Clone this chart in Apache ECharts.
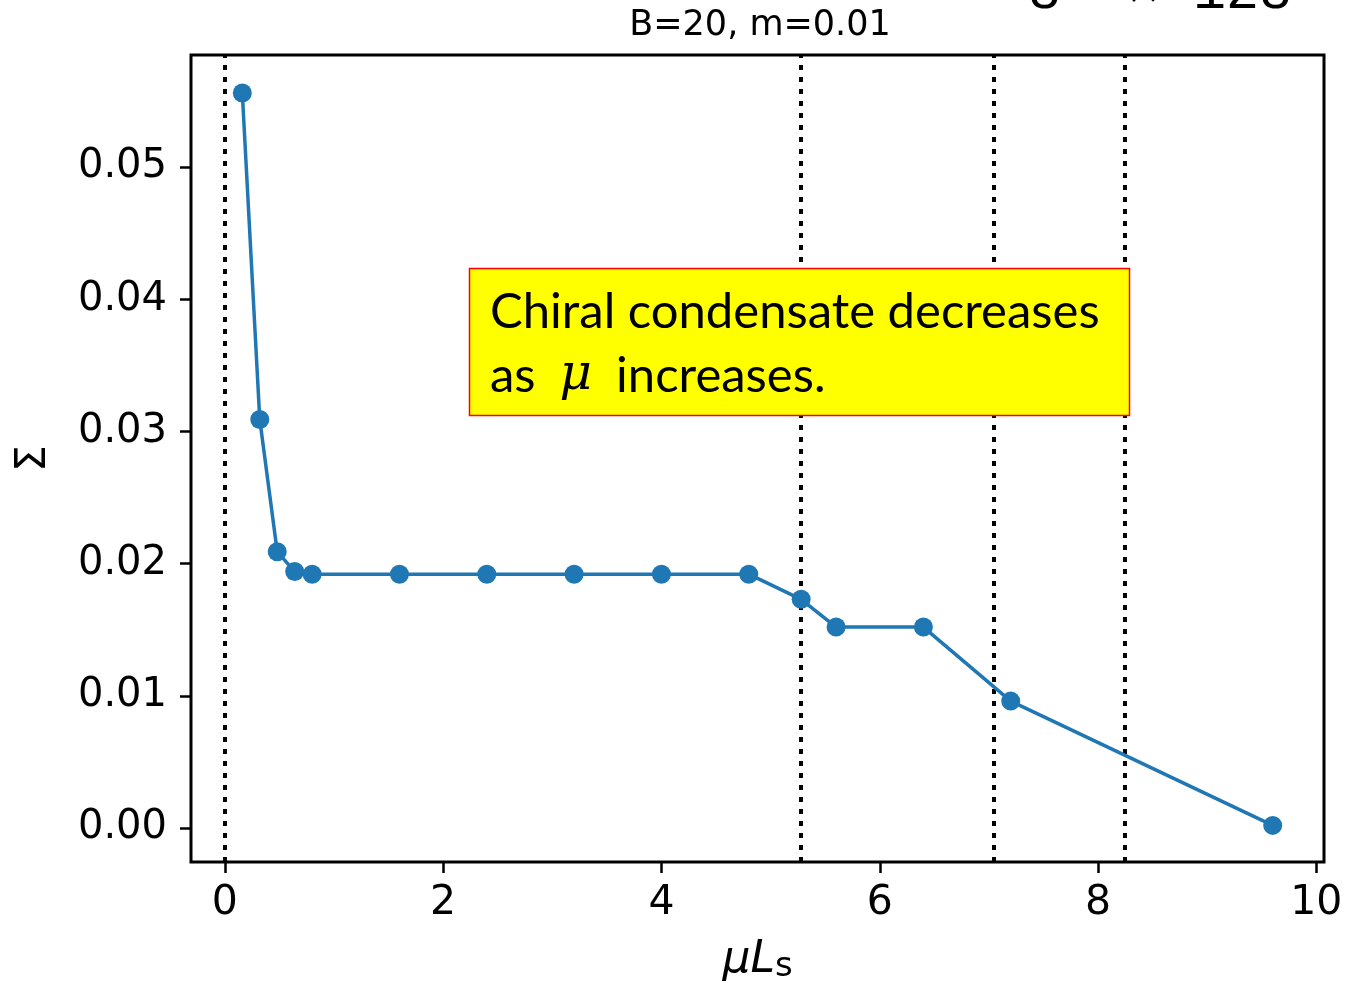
<!DOCTYPE html>
<html><head><meta charset="utf-8">
<script src="https://cdn.jsdelivr.net/npm/echarts@6/dist/echarts.min.js"></script>
<style>html,body{margin:0;padding:0;background:#fff}#c{width:1346px;height:983px}</style>
</head><body><div id="c"></div>
<script>
const muL = [0.16, 0.32, 0.48, 0.64, 0.8, 1.6, 2.4, 3.2, 4.0, 4.8, 5.28, 5.6, 6.4, 7.2, 9.6];
const sigma = [0.0556, 0.0309, 0.0209, 0.0194, 0.0192, 0.0192, 0.0192, 0.0192, 0.0192, 0.0192, 0.0173, 0.0152, 0.0152, 0.0096, 0.0002];
const vlines = [0.0, 5.28, 7.04, 8.24];
const xTicks = [0, 2, 4, 6, 8, 10];
const yTicks = [0, 0.01, 0.02, 0.03, 0.04, 0.05];
const titleText = 'B=20, m=0.01';
const cornerText = '8³ × 128';
const noteLine1 = 'Chiral condensate decreases';
const noteLine2a = 'as';
const noteMu = 'μ';
const noteLine2b = 'increases.';

const chart = echarts.init(document.getElementById('c'), null, {renderer: 'canvas'});
const F = '"DejaVu Sans"';
chart.setOption({
  animation: false,
  backgroundColor: '#fff',
  title: {text: titleText, left: 755, top: 3, textAlign: 'center',
    textStyle: {fontFamily: F, fontSize: 35, fontWeight: 'normal', color: '#000'}},
  grid: {left: 191, right: 22, top: 55, bottom: 121, show: true, borderColor: '#000', borderWidth: 3,
    backgroundColor: 'transparent', containLabel: false, outerBoundsMode: 'none'},
  xAxis: {type: 'value', min: -0.31, max: 10.07,
    axisLine: {show: false, onZero: false},
    splitLine: {show: false},
    axisTick: {show: true, length: 11, inside: false, customValues: xTicks, lineStyle: {color: '#000', width: 2.5}},
    axisLabel: {customValues: xTicks, fontFamily: F, fontSize: 41, color: '#000', margin: 21},
    name: '{mu|μL}{s|s}', nameLocation: 'middle', nameGap: 76,
    nameTextStyle: {rich: {
      mu: {fontFamily: F, fontStyle: 'italic', fontSize: 44, color: '#000'},
      s: {fontFamily: F, fontSize: 34, color: '#000', verticalAlign: 'bottom', padding: [12, 0, 0, 0]}
    }}
  },
  yAxis: {type: 'value', min: -0.00257, max: 0.05847,
    axisLine: {show: false, onZero: false},
    splitLine: {show: false},
    axisTick: {show: true, length: 11, inside: false, customValues: yTicks, lineStyle: {color: '#000', width: 2.5}},
    axisLabel: {customValues: yTicks, fontFamily: F, fontSize: 40, color: '#000', margin: 24,
      formatter: v => v.toFixed(2)},
    name: 'Σ', nameLocation: 'middle', nameGap: 136, nameRotate: 90,
    nameTextStyle: {fontFamily: F, fontSize: 42, color: '#000'}
  },
  series: [{
    type: 'line',
    data: muL.map((x, i) => [x, sigma[i]]),
    symbol: 'circle', symbolSize: 19,
    lineStyle: {color: '#1f77b4', width: 3.5},
    itemStyle: {color: '#1f77b4'},
    z: 3,
    markLine: {
      silent: true, symbol: 'none', label: {show: false},
      lineStyle: {color: '#000', width: 4, type: [5, 7]},
      data: vlines.map(v => ({xAxis: v})),
      z: 1
    }
  }],
  graphic: [
    {type: 'text', x: 1028, y: -7, z: 10,
      style: {text: cornerText, font: '55px "Liberation Mono", monospace', fill: '#000', verticalAlign: 'middle'}},
    {type: 'rect', shape: {x: 469.5, y: 268.5, width: 660, height: 147}, z: 20,
      style: {fill: '#ffff00', stroke: '#ff0000', lineWidth: 1.5}},
    {type: 'text', x: 490, y: 312, z: 21,
      style: {text: noteLine1, font: '49px Lato', fill: '#000', verticalAlign: 'middle'}},
    {type: 'text', x: 490, y: 376, z: 21,
      style: {text: '{a|' + noteLine2a + '}{m|' + noteMu + '}{a|' + noteLine2b + '}', verticalAlign: 'middle',
        rich: {a: {font: '49px Lato', fill: '#000'},
               m: {font: 'italic 50px "DejaVu Serif"', fill: '#000', padding: [0, 24, 0, 24]}}}}
  ]
});
</script></body></html>
